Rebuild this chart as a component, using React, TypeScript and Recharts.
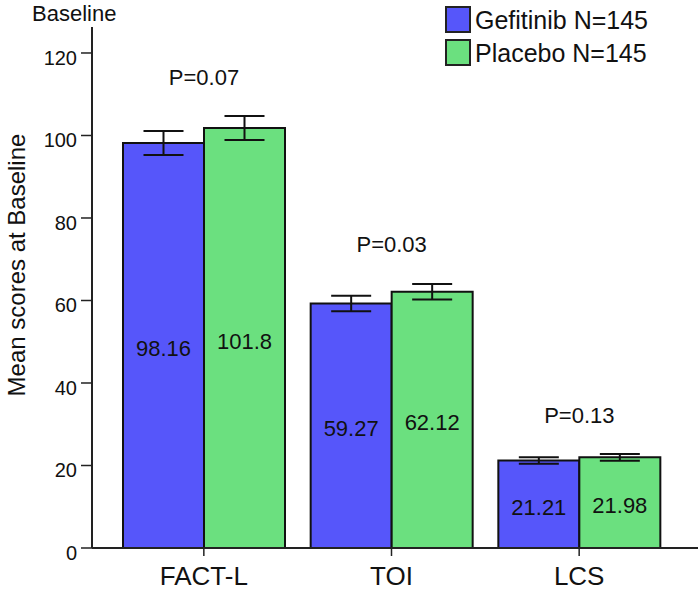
import React from 'react';
import { BarChart, Bar, XAxis, YAxis, ErrorBar, LabelList, Legend } from 'recharts';

const categories = ['FACT-L', 'TOI', 'LCS'];
const gefitinibValues = [98.16, 59.27, 21.21];
const placeboValues = [101.8, 62.12, 21.98];
const gefitinibErrors = [2.9, 1.9, 0.8];
const placeboErrors = [2.9, 1.9, 0.8];
const pValueLabels = ['P=0.07', 'P=0.03', 'P=0.13'];
const yTicks = [0, 20, 40, 60, 80, 100, 120];
const seriesNames = ['Gefitinib N=145', 'Placebo N=145'];

const BLUE = '#5656FA';
const GREEN = '#6BE07F';
const FONT = '"Liberation Sans", Arial, sans-serif';

const data = categories.map((c, i) => ({
  name: c,
  gef: gefitinibValues[i],
  pla: placeboValues[i],
  gefErr: gefitinibErrors[i],
  plaErr: placeboErrors[i],
  pLabel: pValueLabels[i],
}));

const YTick = (props: any) => {
  const { x, y, payload } = props;
  return (
    <text x={x} y={y + 12} textAnchor="end" fontSize={20} fontFamily={FONT} fill="#111">
      {payload.value}
    </text>
  );
};

const XTick = (props: any) => {
  const { x, y, payload } = props;
  return (
    <text x={x} y={y + 27} textAnchor="middle" fontSize={26} fontFamily={FONT} fill="#111">
      {payload.value}
    </text>
  );
};

const ValueLabel = (props: any) => {
  const { x, y, width, height, value } = props;
  return (
    <text
      x={x + width / 2}
      y={y + height / 2 + 3}
      textAnchor="middle"
      dominantBaseline="central"
      fontSize={22}
      fontFamily={FONT}
      fill="#111"
    >
      {value}
    </text>
  );
};

const PLabel = (props: any) => {
  const { x, y, height, index, value } = props;
  const row = data[index];
  const pxPerUnit = height / row.pla;
  const errTop = y - row.plaErr * pxPerUnit;
  return (
    <text
      x={x}
      y={errTop - 39}
      textAnchor="middle"
      dominantBaseline="central"
      fontSize={22}
      fontFamily={FONT}
      fill="#111"
    >
      {value}
    </text>
  );
};

const LegendContent = () => {
  const colors = [BLUE, GREEN];
  return (
    <div style={{ fontFamily: FONT }}>
      {seriesNames.map((n, i) => (
        <div key={n} style={{ display: 'flex', alignItems: 'center', height: 33 }}>
          <div
            style={{
              width: 22,
              height: 23,
              background: colors[i],
              border: '2px solid #222',
              marginRight: 4,
            }}
          />
          <span style={{ fontSize: 25, color: '#111', lineHeight: '26px' }}>{n}</span>
        </div>
      ))}
    </div>
  );
};

const YTitle = () => (
  <text
    x={16}
    y={265}
    transform="rotate(-90 16 265)"
    textAnchor="middle"
    dominantBaseline="central"
    fontSize={24}
    fontFamily={FONT}
    fill="#111"
  >
    Mean scores at Baseline
  </text>
);

export default function App() {
  return (
    <div style={{ position: 'absolute', left: 0, top: 0, width: 700, height: 591, background: '#fff' }}>
      <div
        style={{
          position: 'absolute',
          left: 32,
          top: 1,
          fontFamily: FONT,
          fontSize: 22,
          color: '#111',
          zIndex: 2,
        }}
      >
        Baseline
      </div>
      <BarChart
        width={700}
        height={591}
        data={data}
        margin={{ top: 27, right: 2, bottom: 0, left: 0 }}
        barCategoryGap={13}
        barGap={0}
      >
        <XAxis
          dataKey="name"
          height={43}
          padding={{ left: 18, right: 25 }}
          axisLine={{ stroke: '#222', strokeWidth: 2 }}
          tickLine={{ stroke: '#222', strokeWidth: 1.5 }}
          tickSize={8}
          tick={<XTick />}
        />
        <YAxis
          width={92}
          domain={[0, 126.3]}
          ticks={yTicks}
          allowDataOverflow
          axisLine={{ stroke: '#222', strokeWidth: 2 }}
          tickLine={{ stroke: '#222', strokeWidth: 1.5 }}
          tickSize={11}
          tickMargin={4}
          tick={<YTick />}
          label={<YTitle />}
        />
        <Legend
          layout="vertical"
          align="center"
          verticalAlign="middle"
          content={<LegendContent />}
          wrapperStyle={{ top: 3, left: 445, width: 250 }}
        />
        <Bar dataKey="gef" name={seriesNames[0]} fill={BLUE} stroke="#111" strokeWidth={2} isAnimationActive={false}>
          <ErrorBar dataKey="gefErr" width={20} stroke="#111" strokeWidth={2} direction="y" />
          <LabelList dataKey="gef" content={<ValueLabel />} />
        </Bar>
        <Bar dataKey="pla" name={seriesNames[1]} fill={GREEN} stroke="#111" strokeWidth={2} isAnimationActive={false}>
          <ErrorBar dataKey="plaErr" width={20} stroke="#111" strokeWidth={2} direction="y" />
          <LabelList dataKey="pla" content={<ValueLabel />} />
          <LabelList dataKey="pLabel" content={<PLabel />} />
        </Bar>
      </BarChart>
    </div>
  );
}
